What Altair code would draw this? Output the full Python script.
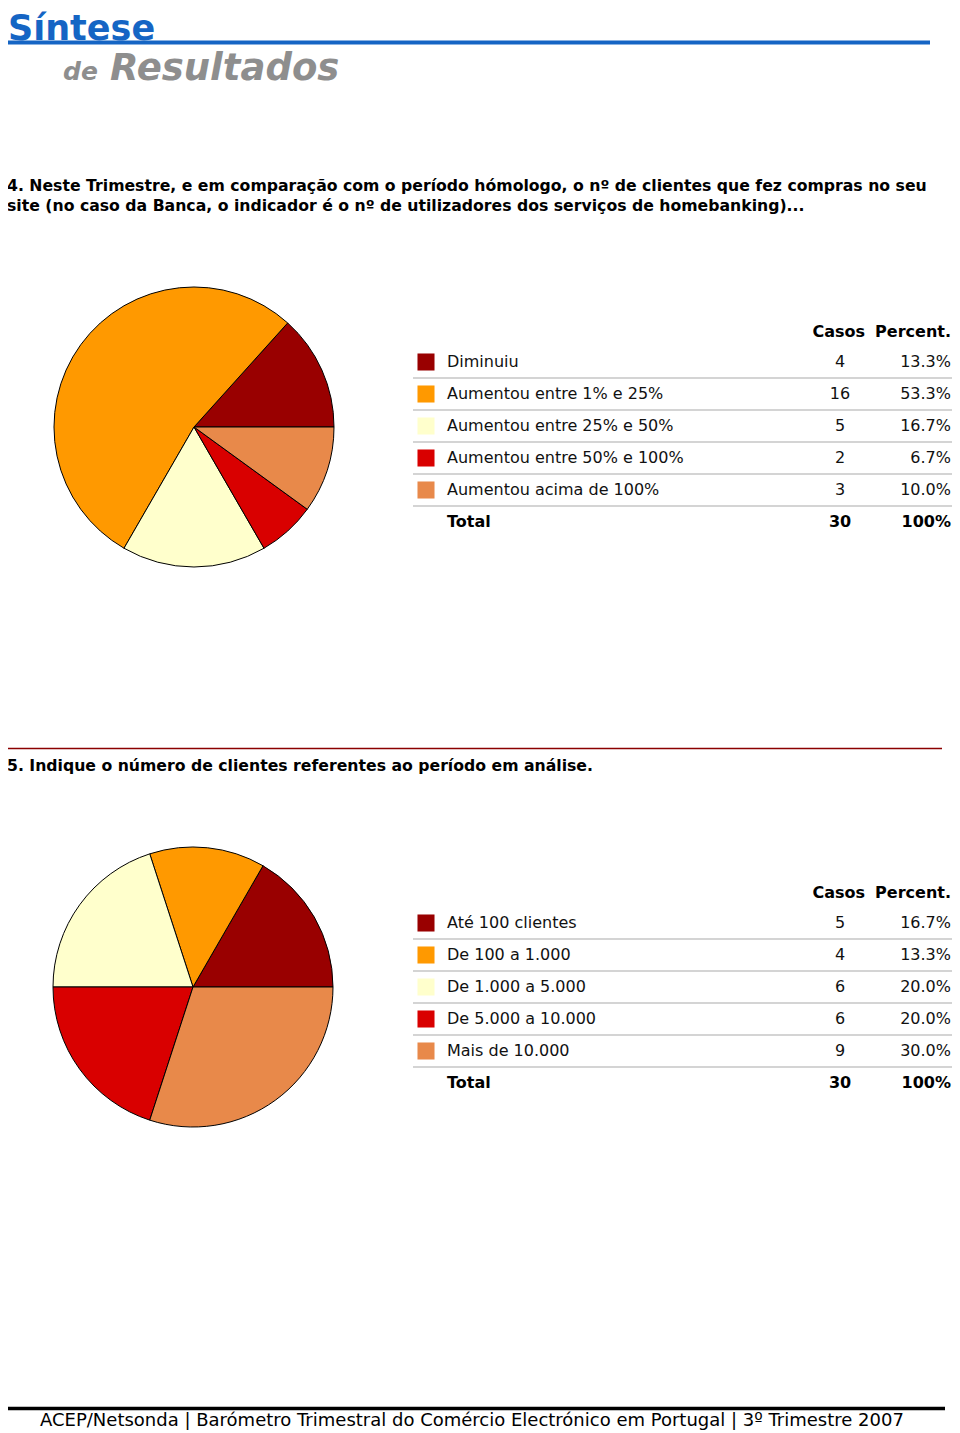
import math
import altair as alt
import pandas as pd

# ---------------- data ----------------
q4_categories = ["Diminuiu", "Aumentou entre 1% e 25%", "Aumentou entre 25% e 50%",
                 "Aumentou entre 50% e 100%", "Aumentou acima de 100%"]
q4_casos = [4, 16, 5, 2, 3]
q4_percent = ["13.3%", "53.3%", "16.7%", "6.7%", "10.0%"]

q5_categories = ["Até 100 clientes", "De 100 a 1.000", "De 1.000 a 5.000",
                 "De 5.000 a 10.000", "Mais de 10.000"]
q5_casos = [5, 4, 6, 6, 9]
q5_percent = ["16.7%", "13.3%", "20.0%", "20.0%", "30.0%"]

slice_colors = ["#990000", "#FF9900", "#FFFFCC", "#D90000", "#E8894A"]

total_casos = "30"
total_percent = "100%"

FONT = "DejaVu Sans"
M = 8  # page margin


def px(x):
    return x - M


one = alt.Data(values=[{"k": 1}])


def txt(text, x, y, size=16, weight="normal", color="#000000", align="left",
        style="normal", baseline="middle"):
    return alt.Chart(one).mark_text(
        text=text, fontSize=size, fontWeight=weight, color=color, align=align,
        baseline=baseline, font=FONT, fontStyle=style
    ).encode(x=alt.value(px(x)), y=alt.value(px(y)))


def hline(x1, x2, y, color, width):
    return alt.Chart(one).mark_rule(color=color, strokeWidth=width).encode(
        x=alt.value(px(x1)), x2=alt.value(px(x2)), y=alt.value(px(y)))


def section(cats, casos, pct, cx, cy, top):
    df = pd.DataFrame({
        "cat": cats, "casos": casos, "pct": pct,
        "idx": list(range(len(cats))), "col": slice_colors,
    })
    pie = alt.Chart(df).mark_arc(radius=140, stroke="#000000", strokeWidth=1).encode(
        theta=alt.Theta("casos:Q", stack=True,
                        scale=alt.Scale(range=[math.pi / 2, math.pi / 2 - 2 * math.pi])),
        order=alt.Order("idx:Q"),
        color=alt.Color("col:N", scale=None),
        x=alt.value(px(cx)), y=alt.value(px(cy)),
    )
    base = alt.Chart(df).transform_calculate(
        ypix=f"{px(top)} + 32 * datum.idx"
    )
    y_enc = alt.Y("ypix:Q", scale=None)
    swatch = base.mark_square(size=290, opacity=1).encode(
        x=alt.value(px(426)), y=y_enc, color=alt.Color("col:N", scale=None))
    label = base.mark_text(align="left", baseline="middle", fontSize=16, font=FONT,
                           color="#111111").encode(
        x=alt.value(px(447)), y=y_enc, text="cat:N")
    cas = base.mark_text(align="center", baseline="middle", fontSize=16, font=FONT,
                         color="#111111").encode(
        x=alt.value(px(840)), y=y_enc, text="casos:Q")
    per = base.mark_text(align="right", baseline="middle", fontSize=16, font=FONT,
                         color="#111111").encode(
        x=alt.value(px(951)), y=y_enc, text="pct:N")
    seps = base.transform_calculate(ysep="datum.ypix + 16").mark_rule(
        color="#D4D4D4", strokeWidth=2).encode(
        x=alt.value(px(413)), x2=alt.value(px(957)), y=alt.Y("ysep:Q", scale=None))
    header = [
        txt("Casos", 865, top - 30, weight="bold", align="right"),
        txt("Percent.", 951, top - 30, weight="bold", align="right"),
        txt("Total", 447, top + 160, weight="bold"),
        txt(total_casos, 840, top + 160, weight="bold", align="center"),
        txt(total_percent, 951, top + 160, weight="bold", align="right"),
    ]
    return [pie, seps, swatch, label, cas, per] + header


layers = [
    txt("Síntese", 8, 40, size=35, weight="bold", color="#1565C4", baseline="alphabetic"),
    hline(5, 930, 42.5, "#1565C4", 4),
    txt("de", 63, 80, size=25, weight="bold", color="#8E8E8E", style="italic",
        baseline="alphabetic"),
    txt("Resultados", 110, 80, size=37, weight="bold", color="#8E8E8E", style="italic",
        baseline="alphabetic"),
    txt("4. Neste Trimestre, e em comparação com o período hómologo, o nº de clientes que fez compras no seu",
        7, 186, size=15.7, weight="bold"),
    txt("site (no caso da Banca, o indicador é o nº de utilizadores dos serviços de homebanking)...",
        7, 206, size=15.7, weight="bold"),
    hline(5, 942, 748.5, "#8B0000", 1.5),
    txt("5. Indique o número de clientes referentes ao período em análise.",
        7, 766, size=15.7, weight="bold"),
    hline(5, 945, 1408.5, "#000000", 3.5),
    txt("ACEP/Netsonda | Barómetro Trimestral do Comércio Electrónico em Portugal | 3º Trimestre 2007",
        40, 1421, size=18),
]
layers += section(q4_categories, q4_casos, q4_percent, 194, 427, 362)
layers += section(q5_categories, q5_casos, q5_percent, 193, 987, 923)

chart = alt.layer(*layers).properties(
    width=944, height=1425, padding=0, autosize=alt.AutoSizeParams(type="none")
).configure_view(stroke=None)

chart.save("out.html", embed_options={"renderer": "svg", "actions": False})
